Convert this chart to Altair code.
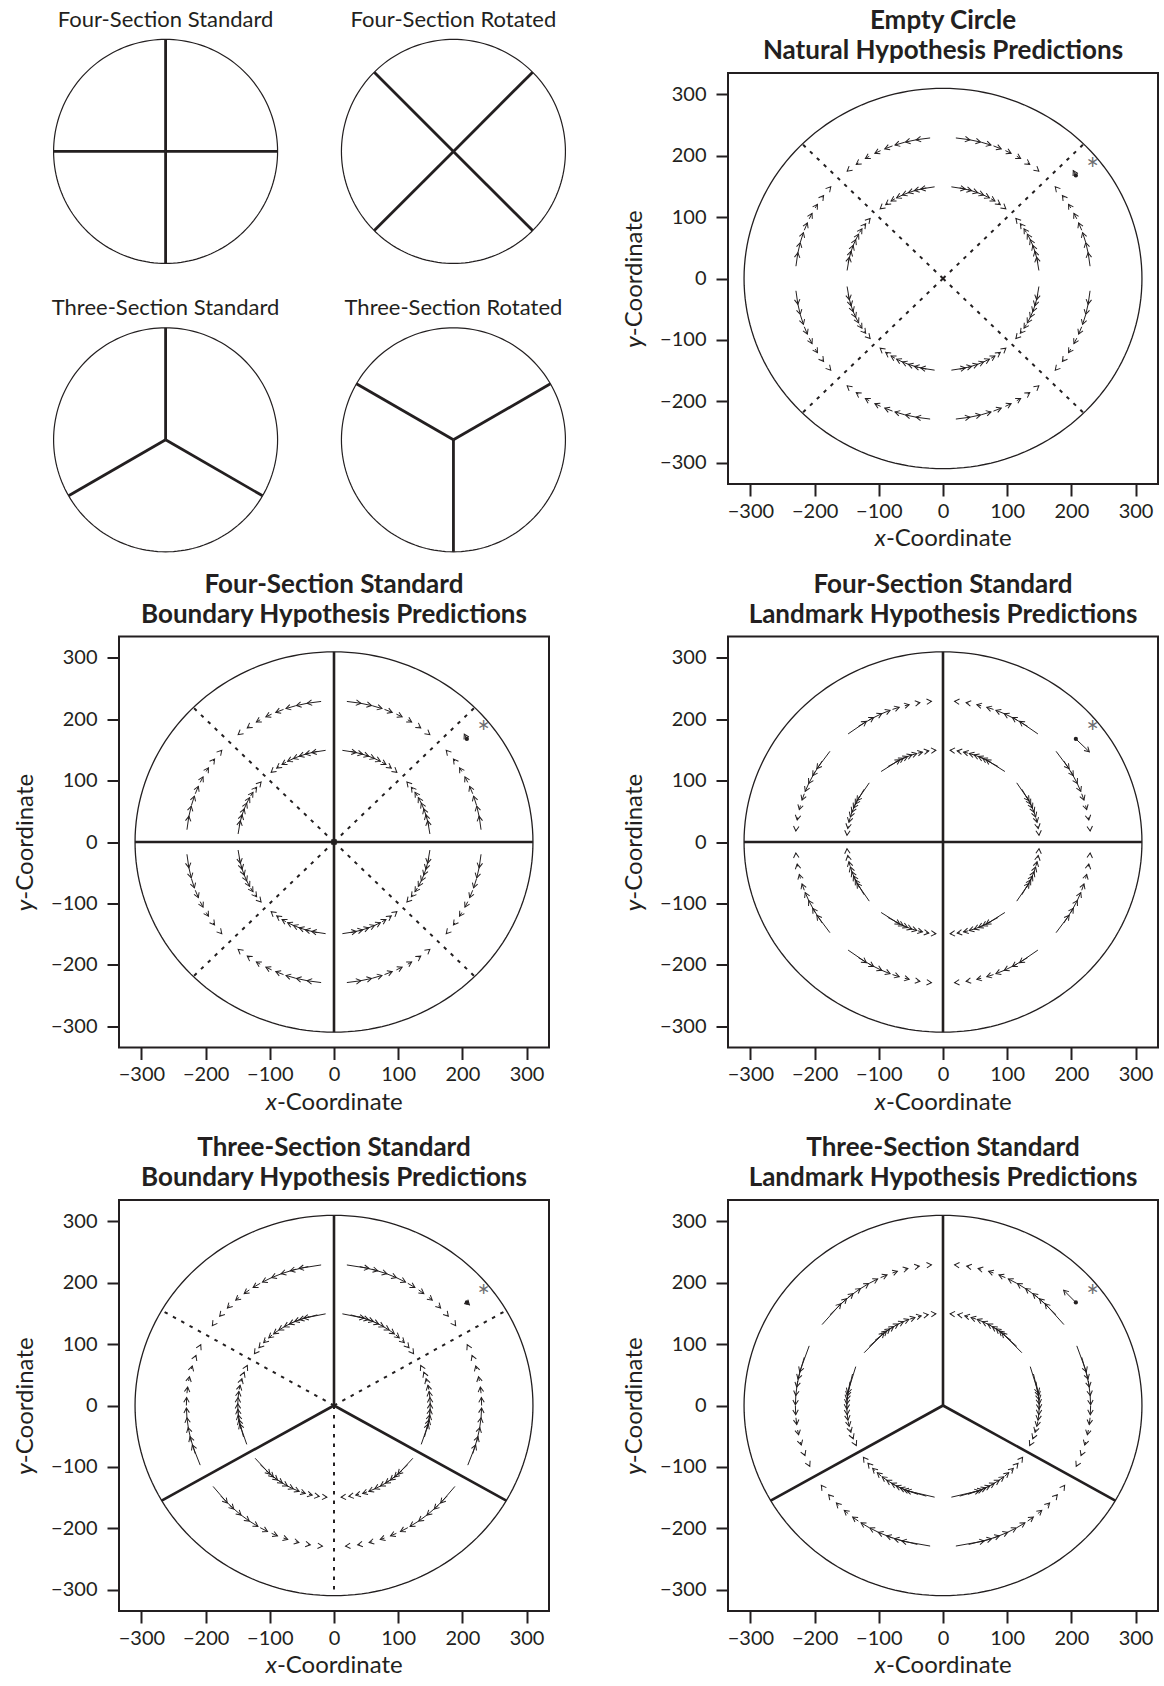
import math
import pandas as pd
import altair as alt

FONT = "Lato"
INK = "#231f20"
STAR_GREY = "#6d6e71"

# ---------------- geometry / reading values ----------------
PANEL_W, PANEL_H = 430, 411
DOMAIN = [-335, 335]
AXIS_TICKS = [-300, -200, -100, 0, 100, 200, 300]
BOUNDARY_RADIUS = 310
RING_RADII = [150, 230]

# tail angles (deg) of the predicted-bias arrows
FOUR_BASE_ANGLES = [5, 10, 15, 20, 25, 30, 35, 40, 50, 55, 60, 65, 70, 75, 80, 85]
FOUR_OFFSETS = [0, 90, 180, 270]
THREE_BASE_ANGLES = [-25, -20, -15, -10, -5, 0, 5, 10, 15, 20, 25,
                     35, 40, 45, 50, 55, 60, 65, 70, 75, 80, 85]
THREE_OFFSETS = [0, 120, 240]

# attractor angles (deg) for each hypothesis
NATURAL_ATTRACTORS = [45, 135, 225, 315]
LANDMARK4_ATTRACTORS = [0, 90, 180, 270]
BOUNDARY3_ATTRACTORS = [30, 150, 270]
LANDMARK3_ATTRACTORS = [90, 210, 330]

# predicted shift along the ring (units) by angular distance (deg) from the attractor
NATURAL_SHIFT = {5: 2, 10: 4, 15: 7, 20: 10, 25: 13, 30: 16, 35: 19, 40: 22}
LANDMARK4_SHIFT = {5: 2, 10: 4, 15: 7, 20: 11, 25: 16, 30: 22, 35: 28, 40: 35}
BOUNDARY3_SHIFT = {5: 2, 10: 3, 15: 5, 20: 7, 25: 10, 30: 13, 35: 16, 40: 20,
                   45: 24, 50: 29, 55: 35}
LANDMARK3_SHIFT = {5: 2, 10: 3, 15: 5, 20: 8, 25: 11, 30: 15, 35: 19, 40: 24,
                   45: 30, 50: 37, 55: 45}

# section lines (deg)
FOUR_STD_LINES = [0, 90, 180, 270]
FOUR_ROT_LINES = [45, 135, 225, 315]
THREE_STD_LINES = [90, 210, 330]
THREE_ROT_LINES = [30, 150, 270]

# example location (dot), its prediction (arrow head) and the asterisk
EXAMPLE_DOT = [207, 168]
EXAMPLE_STAR = [233, 176]
HEAD_NATURAL = [203, 176]
HEAD_LANDMARK4 = [228, 147]
HEAD_BOUNDARY3 = [211, 164]
HEAD_LANDMARK3 = [188, 188]

# schematic diagrams (unit circles) in the top-left block
SMALL_TITLES = ["Four-Section Standard", "Four-Section Rotated",
                "Three-Section Standard", "Three-Section Rotated"]
SMALL_LINES = [FOUR_STD_LINES, FOUR_ROT_LINES, THREE_STD_LINES, THREE_ROT_LINES]
SMALL_CX = [0.0, 2.57, 0.0, 2.57]
SMALL_CY = [0.0, 0.0, -2.575, -2.575]
SMALL_PX = 112  # pixels per unit radius
SMALL_X0, SMALL_Y1 = -0.416, 0.700

SX = PANEL_W / (DOMAIN[1] - DOMAIN[0])
SY = PANEL_H / (DOMAIN[1] - DOMAIN[0])
ARROW_PATH = "M-0.5,0.87L0,0L0.5,0.87"


def polar(r, deg):
    t = math.radians(deg)
    return r * math.cos(t), r * math.sin(t)


def circle_df(r, cx=0.0, cy=0.0, key=0):
    rows = []
    for i, a in enumerate(range(0, 361, 2)):
        x, y = polar(r, a)
        rows.append({"x": cx + x, "y": cy + y, "o": i, "k": key})
    return pd.DataFrame(rows)


def spokes_df(angles, r, cx=0.0, cy=0.0):
    rows = []
    for a in angles:
        x2, y2 = polar(r, a)
        rows.append({"x": cx, "y": cy, "x2": cx + x2, "y2": cy + y2})
    return pd.DataFrame(rows)


def head_angle(dx, dy):
    return (math.degrees(math.atan2(dx * SX, dy * SY)) + 360.0) % 360.0


def arrows_df(base, offsets, attractors, shift):
    rows = []
    for r in RING_RADII:
        for off in offsets:
            for b in base:
                th = b + off
                diffs = [((a - th + 180) % 360) - 180 for a in attractors]
                diff = min(diffs, key=abs)
                d = int(round(abs(diff)))
                th2 = th + math.copysign(math.degrees(shift[d] / r), diff)
                x, y = polar(r, th)
                x2, y2 = polar(r, th2)
                rows.append({"x": x, "y": y, "x2": x2, "y2": y2,
                             "ang": head_angle(x2 - x, y2 - y)})
    return pd.DataFrame(rows)


def example_df(head):
    x, y = EXAMPLE_DOT
    x2, y2 = head
    return pd.DataFrame([{"x": x, "y": y, "x2": x2, "y2": y2,
                          "ang": head_angle(x2 - x, y2 - y)}])


xscale = alt.Scale(domain=DOMAIN, nice=False, zero=False)
yscale = alt.Scale(domain=DOMAIN, nice=False, zero=False)
AX = dict(values=AXIS_TICKS, title=None, domain=False, grid=False, tickSize=12,
          tickWidth=2, tickColor=INK, labelFont=FONT, labelFontSize=20,
          labelColor=INK)


def X(f="x"):
    return alt.X(f"{f}:Q", scale=xscale, axis=alt.Axis(labelPadding=5, **AX))


def Y(f="y"):
    return alt.Y(f"{f}:Q", scale=yscale, axis=alt.Axis(labelPadding=10, **AX))


def panel(title, solid, dotted, arrows, head):
    layers = []
    layers.append(alt.Chart(circle_df(BOUNDARY_RADIUS)).mark_line(
        color=INK, strokeWidth=1.3).encode(x=X(), y=Y(), order="o:Q"))
    if dotted:
        layers.append(alt.Chart(spokes_df(dotted, BOUNDARY_RADIUS)).mark_rule(
            color=INK, strokeWidth=2, strokeDash=[3.5, 6]).encode(
            x=X(), y=Y(), x2="x2:Q", y2="y2:Q"))
    if solid:
        layers.append(alt.Chart(spokes_df(solid, BOUNDARY_RADIUS)).mark_rule(
            color=INK, strokeWidth=2.6).encode(x=X(), y=Y(), x2="x2:Q", y2="y2:Q"))
    for df in (arrows, example_df(head)):
        layers.append(alt.Chart(df).mark_rule(color=INK, strokeWidth=1).encode(
            x=X(), y=Y(), x2="x2:Q", y2="y2:Q"))
        layers.append(alt.Chart(df).mark_point(
            shape=ARROW_PATH, filled=False, size=120, strokeWidth=1,
            color=INK, opacity=1).encode(
            x=X("x2"), y=Y("y2"), angle=alt.Angle("ang:Q", scale=None)))
    layers.append(alt.Chart(pd.DataFrame([{"x": EXAMPLE_DOT[0], "y": EXAMPLE_DOT[1]}]))
                  .mark_point(shape="circle", filled=True, size=18, color=INK, opacity=1)
                  .encode(x=X(), y=Y()))
    layers.append(alt.Chart(pd.DataFrame([{"x": EXAMPLE_STAR[0], "y": EXAMPLE_STAR[1]}]))
                  .mark_text(text="*", font=FONT, fontSize=30, color=STAR_GREY,
                             baseline="middle")
                  .encode(x=X(), y=Y()))
    # axis titles with italic variable letter
    tdf = pd.DataFrame([{"x": -89, "y": -94}])
    layers.append(alt.Chart(tdf).mark_text(
        text="x", fontStyle="italic", align="right", baseline="alphabetic",
        font=FONT, fontSize=24, color=INK).encode(x=X(), y=alt.value(PANEL_H + 62)))
    layers.append(alt.Chart(tdf).mark_text(
        text="-Coordinate", align="left", baseline="alphabetic",
        font=FONT, fontSize=24, color=INK).encode(x=X(), y=alt.value(PANEL_H + 62)))
    layers.append(alt.Chart(tdf).mark_text(
        text="y", fontStyle="italic", align="right", baseline="middle", angle=270,
        font=FONT, fontSize=24, color=INK).encode(x=alt.value(-93), y=Y()))
    layers.append(alt.Chart(tdf).mark_text(
        text="-Coordinate", align="left", baseline="middle", angle=270,
        font=FONT, fontSize=24, color=INK).encode(x=alt.value(-93), y=Y()))
    return alt.layer(*layers).properties(
        width=PANEL_W, height=PANEL_H,
        view=alt.ViewBackground(stroke=INK, strokeWidth=2),
        title=alt.TitleParams(text=title, font=FONT, fontSize=26, fontWeight="bold",
                              color=INK, anchor="middle", baseline="alphabetic",
                              offset=-12, lineHeight=30))


def small_block():
    sx = alt.Scale(domain=[SMALL_X0, SMALL_X0 + PANEL_W / SMALL_PX], nice=False, zero=False)
    sy = alt.Scale(domain=[SMALL_Y1 - PANEL_H / SMALL_PX, SMALL_Y1], nice=False, zero=False)
    circles = pd.concat([circle_df(1, cx, cy, k)
                         for k, (cx, cy) in enumerate(zip(SMALL_CX, SMALL_CY))])
    lines = pd.concat([spokes_df(ls, 1, cx, cy)
                       for ls, cx, cy in zip(SMALL_LINES, SMALL_CX, SMALL_CY)])
    titles = pd.DataFrame({"x": SMALL_CX, "y": [c + 1.11 for c in SMALL_CY],
                           "t": SMALL_TITLES})
    xe = alt.X("x:Q", scale=sx, axis=None)
    ye = alt.Y("y:Q", scale=sy, axis=None)
    c = alt.Chart(circles).mark_line(color=INK, strokeWidth=1.2).encode(
        x=xe, y=ye, detail="k:N", order="o:Q")
    s = alt.Chart(lines).mark_rule(color=INK, strokeWidth=2.8).encode(
        x=xe, y=ye, x2="x2:Q", y2="y2:Q")
    t = alt.Chart(titles).mark_text(font=FONT, fontSize=22, color=INK,
                                    baseline="alphabetic", align="center").encode(
        x=xe, y=ye, text="t:N")
    return alt.layer(c, s, t).properties(width=PANEL_W, height=PANEL_H)


p_nat = panel(["Empty Circle", "Natural Hypothesis Predictions"], [], FOUR_ROT_LINES,
              arrows_df(FOUR_BASE_ANGLES, FOUR_OFFSETS, NATURAL_ATTRACTORS, NATURAL_SHIFT),
              HEAD_NATURAL)
p_b4 = panel(["Four-Section Standard", "Boundary Hypothesis Predictions"],
             FOUR_STD_LINES, FOUR_ROT_LINES,
             arrows_df(FOUR_BASE_ANGLES, FOUR_OFFSETS, NATURAL_ATTRACTORS, NATURAL_SHIFT),
             HEAD_NATURAL)
p_l4 = panel(["Four-Section Standard", "Landmark Hypothesis Predictions"],
             FOUR_STD_LINES, [],
             arrows_df(FOUR_BASE_ANGLES, FOUR_OFFSETS, LANDMARK4_ATTRACTORS, LANDMARK4_SHIFT),
             HEAD_LANDMARK4)
p_b3 = panel(["Three-Section Standard", "Boundary Hypothesis Predictions"],
             THREE_STD_LINES, THREE_ROT_LINES,
             arrows_df(THREE_BASE_ANGLES, THREE_OFFSETS, BOUNDARY3_ATTRACTORS, BOUNDARY3_SHIFT),
             HEAD_BOUNDARY3)
p_l3 = panel(["Three-Section Standard", "Landmark Hypothesis Predictions"],
             THREE_STD_LINES, [],
             arrows_df(THREE_BASE_ANGLES, THREE_OFFSETS, LANDMARK3_ATTRACTORS, LANDMARK3_SHIFT),
             HEAD_LANDMARK3)

chart = alt.concat(
    small_block(), p_nat, p_b4, p_l4, p_b3, p_l3,
    columns=2, bounds="flush", spacing={"row": 152.5, "column": 179},
).properties(
    padding={"left": 13, "top": 7, "right": 3, "bottom": 5},
    background="white",
).configure_view(strokeWidth=0)

chart.save("out.html", embed_options={"renderer": "svg", "actions": False})
